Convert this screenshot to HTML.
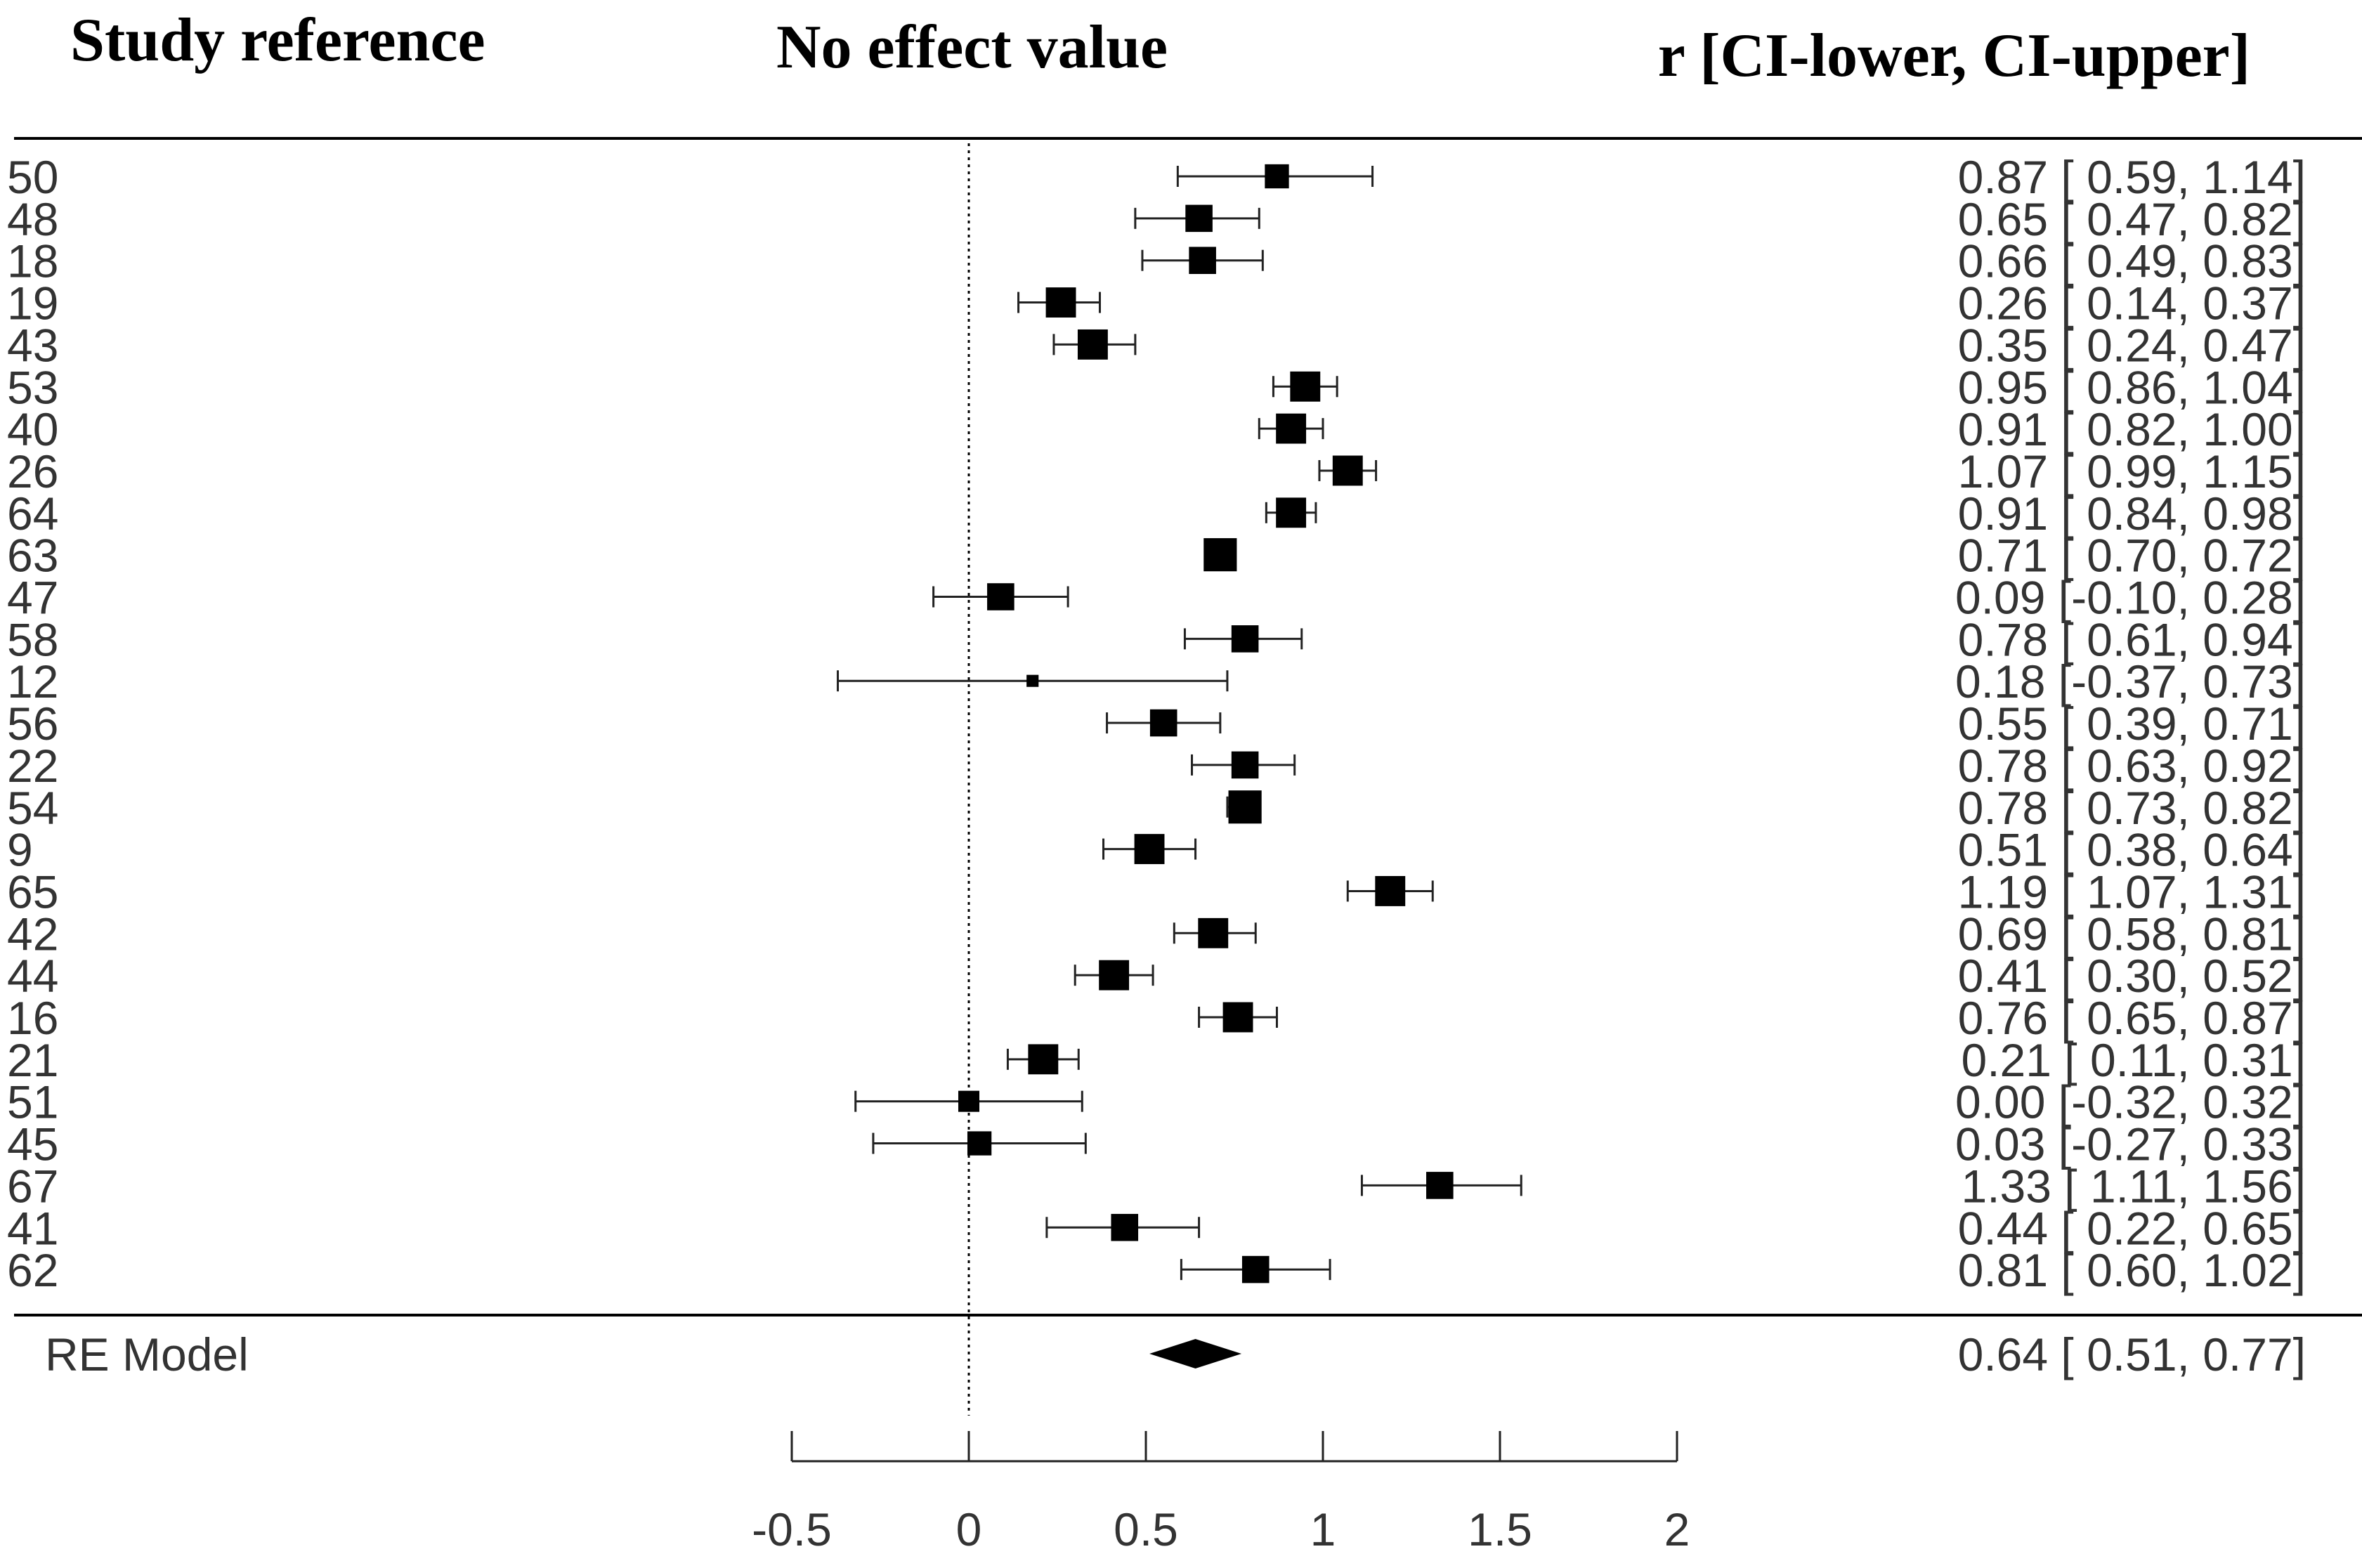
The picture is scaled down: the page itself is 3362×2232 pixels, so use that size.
<!DOCTYPE html>
<html><head><meta charset="utf-8"><style>
html,body{margin:0;padding:0;background:#fff;}
svg{display:block;}
</style></head><body>
<svg id="chart" width="3362" height="2232" viewBox="0 0 3362 2232" xmlns="http://www.w3.org/2000/svg">
<g font-family="Liberation Serif, serif" font-weight="bold" font-size="88" fill="#000">
<text x="100" y="86">Study reference</text>
<text x="1105" y="96">No effect value</text>
<text x="3203" y="108" text-anchor="end">r [CI-lower, CI-upper]</text>
</g>
<line x1="20" y1="197" x2="3362" y2="197" stroke="#000" stroke-width="4"/>
<line x1="20" y1="1872" x2="3362" y2="1872" stroke="#000" stroke-width="4"/>
<g id="plot"></g>
</svg>
<script>
const studies=["50","48","18","19","43","53","40","26","64","63","47","58","12","56","22","54","9","65","42","44","16","21","51","45","67","41","62"];
const estimates=[0.87,0.65,0.66,0.26,0.35,0.95,0.91,1.07,0.91,0.71,0.09,0.78,0.18,0.55,0.78,0.78,0.51,1.19,0.69,0.41,0.76,0.21,0.00,0.03,1.33,0.44,0.81];
const lowers=[0.59,0.47,0.49,0.14,0.24,0.86,0.82,0.99,0.84,0.70,-0.10,0.61,-0.37,0.39,0.63,0.73,0.38,1.07,0.58,0.30,0.65,0.11,-0.32,-0.27,1.11,0.22,0.60];
const uppers=[1.14,0.82,0.83,0.37,0.47,1.04,1.00,1.15,0.98,0.72,0.28,0.94,0.73,0.71,0.92,0.82,0.64,1.31,0.81,0.52,0.87,0.31,0.32,0.33,1.56,0.65,1.02];
const weights=[16,18,18,20,20,20,20,20,20,22,18,18,8,18,18,22,20,20,20,20,20,20,14,16,18,18,18];
const reModel=[0.64,0.51,0.77];
const ticks=[-0.5,0,0.5,1,1.5,2];
const tickLabels=["-0.5","0","0.5","1","1.5","2"];

const NS="http://www.w3.org/2000/svg";
const g=document.getElementById('plot');
const X=v=>1379+v*504;
const Y=i=>251+i*59.85;
function mk(t,a){const e=document.createElementNS(NS,t);for(const k in a)e.setAttribute(k,a[k]);g.appendChild(e);return e;}
const f=v=>(v<0?"-":" ")+Math.abs(v).toFixed(2);
const FS=66;

let dl=mk('line',{x1:X(0),y1:204,x2:X(0),y2:2015,stroke:'#000','stroke-width':3,'stroke-dasharray':'4,6'});



studies.forEach((s,i)=>{
  const y=Y(i);
  let t=mk('text',{x:10,y:y+24,'font-family':'Liberation Sans, sans-serif','font-size':FS,fill:'#333'});t.textContent=s;
  
  
  let l=mk('line',{x1:X(lowers[i]),y1:y,x2:X(uppers[i]),y2:y,stroke:'#222','stroke-width':3});
  
  
  [lowers[i],uppers[i]].forEach(v=>{let c=mk('line',{x1:X(v),y1:y-15,x2:X(v),y2:y+15,stroke:'#222','stroke-width':3});
  
  });
  const h=weights[i]*1.072;
  let r=mk('rect',{x:X(estimates[i])-h,y:y-h,width:2*h,height:2*h,fill:'#000'});
  
  
  let v=mk('text',{x:3282,y:y+24,'text-anchor':'end','font-family':'Liberation Sans, sans-serif','font-size':FS,fill:'#333','xml:space':'preserve'});
  v.textContent=estimates[i].toFixed(2)+" ["+f(lowers[i])+", "+uppers[i].toFixed(2)+"]";
  
  
});
const yr=1927;
let rl=mk('text',{x:64,y:yr+24,'font-family':'Liberation Sans, sans-serif','font-size':FS,fill:'#333'});rl.textContent="RE Model";


let dm=mk('polygon',{points:`${X(reModel[1])},${yr} ${X(reModel[0])},${yr-21} ${X(reModel[2])},${yr} ${X(reModel[0])},${yr+21}`,fill:'#000'});


let rv=mk('text',{x:3282,y:yr+24,'text-anchor':'end','font-family':'Liberation Sans, sans-serif','font-size':FS,fill:'#333'});
rv.textContent=reModel[0].toFixed(2)+" ["+f(reModel[1])+", "+reModel[2].toFixed(2)+"]";


let ax=mk('line',{x1:X(ticks[0]),y1:2080,x2:X(ticks[ticks.length-1]),y2:2080,stroke:'#222','stroke-width':3});


ticks.forEach((v,i)=>{
  let tk=mk('line',{x1:X(v),y1:2037,x2:X(v),y2:2080,stroke:'#222','stroke-width':3});
  
  
  let tl=mk('text',{x:X(v),y:2200,'text-anchor':'middle','font-family':'Liberation Sans, sans-serif','font-size':FS,fill:'#333'});
  tl.textContent=tickLabels[i];
  
  
});
</script>
</body></html>
